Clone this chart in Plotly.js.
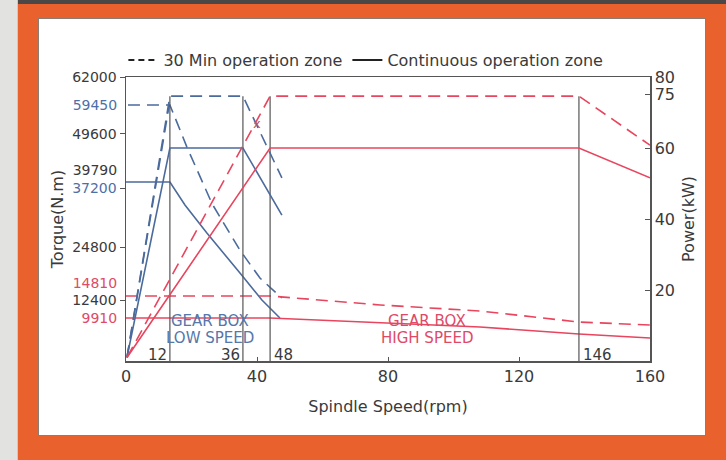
<!DOCTYPE html>
<html>
<head>
<meta charset="utf-8">
<script src="https://cdn.plot.ly/plotly-3.0.1.min.js"></script>
<style>
  html, body { margin:0; padding:0; }
  body { width:726px; height:460px; position:relative; overflow:hidden; background:#e9612c; font-family:"DejaVu Sans", sans-serif; }
  #topbar { position:absolute; left:0; top:0; width:726px; height:4px; background:#4a4846; }
  #leftstrip { position:absolute; left:0; top:0; width:17px; height:460px; background:#e2e2e0; border-right:1px solid #c9c9c7; }
  #panel { position:absolute; left:38px; top:18px; width:668px; height:418px; background:#fff; border:1px solid #8a7d74; box-sizing:border-box; }
  #chart { position:absolute; left:0; top:0; width:726px; height:460px; }
</style>
</head>
<body>
<div id="topbar"></div>
<div id="leftstrip"></div>
<div id="panel"></div>
<div id="chart"></div>
<script>
// ---- data (positions read on the drawn axes) ----
const xTicks = [0, 40, 80, 120, 160];
const powerTicks = [20, 40, 60, 75, 80];

// torque labels (left axis); positions where each label sits on the drawn 0-62000 axis
const torqueTickedVals = [62000, 49600, 37700, 24800, 13300];
const torqueTickedText = ['62000', '49600', '<span style="color:#4d6fa8">37200</span>', '24800', '12400'];
const torqueColoredVals = [55900, 41700, 17030, 9390];
const torqueColoredText = ['<span style="color:#4d6fa8">59450</span>', '39790', '<span style="color:#e04a66">14810</span>', '<span style="color:#e04a66">9910</span>'];

// speed marks (vertical lines) and their labels
const speedMarks = [13.4, 35.7, 44.0, 138.3];
const speedMarkLabels = ['12', '36', '48', '146'];
const speedMarkTop = 74.6;

// Gear box LOW speed (blue)
const lowP30X = [0.3, 13.4, 35.7, 47.6];
const lowP30Y = [1, 74.6, 74.6, 51.6];
const lowPcX = [0.3, 13.4, 35.7, 47.6];
const lowPcY = [1, 60.0, 60.0, 41.1];
const lowRiseX = [0.3, 13.2];
const lowRiseY = [800, 55900];
const lowT30X = [0.6, 13.4, 18.6, 26.3, 34.8, 40.9, 47.6];
const lowT30Y = [55900, 55900, 46700, 34300, 24200, 18100, 13750];
const lowTcX = [0, 13.4, 18.0, 24.7, 34.8, 41.5, 47.0];
const lowTcY = [39080, 39080, 34050, 27940, 19210, 13320, 9390];

// Gear box HIGH speed (red)
const highP30X = [0.3, 44.0, 138.3, 160];
const highP30Y = [1, 74.6, 74.6, 60.8];
const highPcX = [0.3, 44.0, 138.3, 160];
const highPcY = [1, 60.0, 60.0, 51.6];
const highT30X = [0, 44.0, 77.6, 108.1, 138.3, 160];
const highT30Y = [14190, 14190, 12230, 10920, 8510, 7860];
const highTcX = [0, 44.0, 108.1, 138.3, 160];
const highTcY = [9390, 9390, 7420, 5890, 5020];

// ---- styles ----
const BLUE = '#4b6b9c', RED = '#e8455e', GRAY = '#555555', TXT = '#3a3a3a';
const DASH = '12px,7px';
const FONT = 'DejaVu Sans, sans-serif';
const FS = 16;
const FSL = 14;

function line(x, y, color, dash, yaxis) {
  return { x: x, y: y, type: 'scatter', mode: 'lines', yaxis: yaxis, showlegend: false, hoverinfo: 'skip',
           line: { color: color, width: 1.6, dash: dash } };
}

const vx = [], vy = [];
speedMarks.forEach(function (s) { vx.push(s, s, null); vy.push(0, speedMarkTop, null); });

const traces = [
  { x: vx, y: vy, type: 'scatter', mode: 'lines', yaxis: 'y2', showlegend: false, hoverinfo: 'skip', line: { color: GRAY, width: 1.2 } },
  line(lowP30X, lowP30Y, BLUE, DASH, 'y2'),
  line(lowPcX, lowPcY, BLUE, 'solid', 'y2'),
  line(lowRiseX, lowRiseY, BLUE, DASH, 'y'),
  line(lowT30X, lowT30Y, BLUE, DASH, 'y'),
  line(lowTcX, lowTcY, BLUE, 'solid', 'y'),
  line(highP30X, highP30Y, RED, DASH, 'y2'),
  line(highPcX, highPcY, RED, 'solid', 'y2'),
  line(highT30X, highT30Y, RED, DASH, 'y'),
  line(highTcX, highTcY, RED, 'solid', 'y'),
  { x: [null], y: [null], type: 'scatter', mode: 'lines', yaxis: 'y3', showlegend: false, hoverinfo: 'skip' },
  { x: [null], y: [null], type: 'scatter', mode: 'lines', name: '30 Min operation zone', line: { color: '#222', width: 2, dash: '6px,4px' } },
  { x: [null], y: [null], type: 'scatter', mode: 'lines', name: 'Continuous operation zone', line: { color: '#222', width: 2 } }
];

const annotations = [];
speedMarks.forEach(function (s, i) {
  const right = i < 2;
  annotations.push({ x: s, y: 1.75, xref: 'x', yref: 'y2', text: speedMarkLabels[i], showarrow: false,
    xanchor: right ? 'right' : 'left', yanchor: 'middle', xshift: right ? -1 : 2,
    font: { family: FONT, size: 15, color: TXT } });
});
function gearText(x, y, text, color) {
  annotations.push({ x: x, y: y, xref: 'x', yref: 'y2', text: text, showarrow: false, yanchor: 'middle',
    font: { family: FONT, size: 15, color: color } });
}
gearText(25.6, 11.4, 'GEAR BOX', '#5577aa');
gearText(25.6, 6.6, 'LOW SPEED', '#5577aa');
gearText(92, 11.4, 'GEAR BOX', '#e04a66');
gearText(92, 6.6, 'HIGH SPEED', '#e04a66');
annotations.push({ x: 40.0, y: 67.0, xref: 'x', yref: 'y2', text: 'x', showarrow: false,
  font: { family: FONT, size: 13, color: '#b05a6c' } });

const layout = {
  width: 726, height: 460,
  margin: { l: 126, r: 76, t: 77, b: 99 },
  paper_bgcolor: 'rgba(0,0,0,0)', plot_bgcolor: '#ffffff',
  font: { family: FONT, color: TXT, size: FS },
  showlegend: true,
  legend: { orientation: 'h', x: -0.005, xanchor: 'left', y: 1.0, yanchor: 'bottom',
            font: { family: FONT, size: FS, color: TXT }, bgcolor: 'rgba(0,0,0,0)' },
  xaxis: { range: [0, 160], tickvals: xTicks, ticks: 'inside', ticklen: 4, tickcolor: GRAY,
           showline: true, mirror: true, linecolor: GRAY, linewidth: 1.5, showgrid: false, zeroline: false,
           tickfont: { family: FONT, size: FS, color: TXT },
           title: { text: 'Spindle Speed(rpm)', font: { family: FONT, size: 16, color: TXT }, standoff: 16 } },
  yaxis: { range: [0, 62000], tickvals: torqueTickedVals, ticktext: torqueTickedText, ticks: 'outside', ticklen: 5,
           tickcolor: GRAY, showline: true, mirror: true, linecolor: GRAY, linewidth: 1.5, showgrid: false, zeroline: false,
           tickfont: { family: FONT, size: FSL, color: TXT },
           title: { text: 'Torque(N.m)', font: { family: FONT, size: 16, color: TXT }, standoff: 4 } },
  yaxis3: { range: [0, 62000], overlaying: 'y', side: 'left', anchor: 'x', tickvals: torqueColoredVals, ticktext: torqueColoredText,
            ticks: 'outside', ticklen: 5, tickcolor: 'rgba(0,0,0,0)', showline: false, showgrid: false, zeroline: false,
            tickfont: { family: FONT, size: FSL, color: TXT } },
  yaxis2: { range: [0, 80], overlaying: 'y', side: 'right', anchor: 'x', tickvals: powerTicks, ticks: 'inside', ticklen: 5,
            tickcolor: GRAY, showline: true, linecolor: GRAY, linewidth: 1.5, showgrid: false, zeroline: false,
            tickfont: { family: FONT, size: FS, color: TXT },
            title: { text: 'Power(kW)', font: { family: FONT, size: 16, color: TXT }, standoff: 8 } },
  annotations: annotations
};

Plotly.newPlot('chart', traces, layout, { staticPlot: true, displayModeBar: false });
</script>
</body>
</html>
